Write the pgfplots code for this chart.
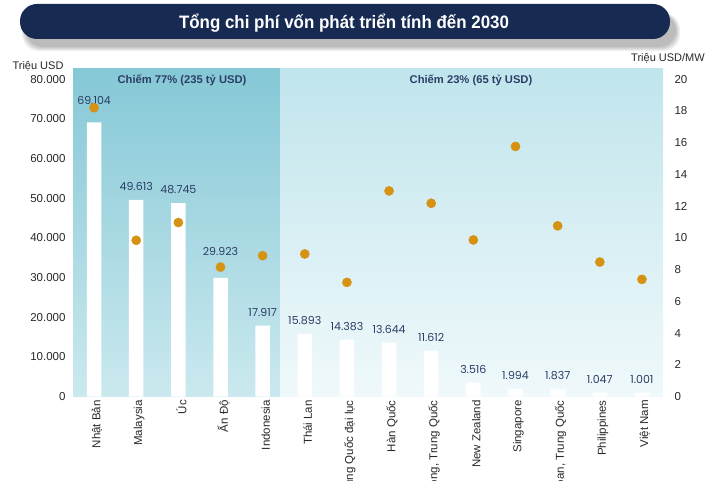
\documentclass[border=0pt]{standalone}
\usepackage{pgfplots}
\pgfplotsset{compat=1.18}
\usepackage{pgfplotstable}
\usepackage{fontspec}
\setmainfont{Liberation Sans}
\newfontfamily\numfont{Poppins}
\definecolor{navy}{RGB}{22,42,82}
\definecolor{lbl}{RGB}{44,62,102}
\definecolor{gold}{RGB}{214,146,18}
\definecolor{ltop}{RGB}{133,200,214}
\definecolor{lbot}{RGB}{203,233,239}
\definecolor{rtop}{RGB}{192,229,236}
\definecolor{rbot}{RGB}{240,249,251}
\definecolor{tick}{RGB}{40,40,40}

\pgfplotstableread{
idx bar dot off
0 69104 18.2 22
1 49613 9.85 13.5
2 48745 10.97 13.5
3 29923 8.16 26
4 17917 8.88 13.5
5 15893 8.99 13.5
6 14383 7.2 13.5
7 13644 12.96 13.5
8 11612 12.18 13.5
9 3516 9.87 13.5
10 1994 15.76 13.5
11 1837 10.76 13.5
12 1047 8.48 13.5
13 1001 7.39 13.5
}\datatable

\begin{document}
\begin{tikzpicture}[x=1pt,y=1pt]
\useasboundingbox (0,0) rectangle (720,480);
% banner shadow
\foreach \s in {0,1,2,3,4}{
  \fill[black,opacity=0.06,rounded corners=17pt] (26-\s,433-\s) rectangle (676+\s,466+\s*0.2);
}
\fill[navy,rounded corners=17pt] (20,441) rectangle (670,476);
\node[white,font=\bfseries\fontsize{18}{20}\selectfont,anchor=base] at (344,451.7) {\scalebox{0.94}[1]{Tổng chi phí vốn phát triển tính đến 2030}};

\begin{axis}[
  at={(73pt,83.3pt)}, anchor=south west,
  scale only axis, width=590pt, height=328.7pt,
  xmin=-0.5, xmax=13.5, ymin=0, ymax=82800,
  axis line style={draw=none},
  major tick length=0pt,
  ytick={0,10000,...,80000},
  scaled y ticks=false,
  yticklabel style={font=\fontsize{11.5}{13}\selectfont, text=tick, xshift=-4pt},
  xtick={0,...,13},
  xticklabels={Nhật Bản, Malaysia, Úc, Ấn Độ, Indonesia, Thái Lan, Trung Quốc đại lục, Hàn Quốc, {Hồng Kông, Trung Quốc}, New Zealand, Singapore, {Đài Loan, Trung Quốc}, Philippines, Việt Nam},
  xticklabel style={rotate=90, anchor=east, font=\fontsize{11.5}{13}\selectfont, text=tick, yshift=-3pt},
  /pgf/number format/1000 sep={.},
  /pgf/number format/assume math mode=true,
]
\shade[top color=ltop, bottom color=lbot] (axis cs:-0.5,0) rectangle (axis cs:4.42,82800);
\shade[top color=rtop, bottom color=rbot] (axis cs:4.42,0) rectangle (axis cs:13.5,82800);
\draw[gray!35] (axis cs:-0.5,0) -- (axis cs:13.5,0);
\addplot[ybar, bar width=14.5pt, fill=white, draw=none,
  nodes near coords,
  visualization depends on={\thisrow{off}\as\off},
  every node near coord/.append style={anchor=center, yshift=\off pt, font=\numfont\fontsize{11}{12}\selectfont, text=lbl}]
  table[x=idx, y=bar] {\datatable};
\end{axis}

\begin{axis}[
  at={(73pt,83.3pt)}, anchor=south west,
  scale only axis, width=590pt, height=328.7pt,
  xmin=-0.5, xmax=13.5, ymin=0, ymax=20.7,
  axis y line*=right, axis line style={draw=none},
  hide x axis,
  major tick length=0pt,
  ytick={0,2,...,20},
  yticklabel style={font=\fontsize{11.5}{13}\selectfont, text=tick, xshift=8pt},
  /pgf/number format/assume math mode=true,
]
\addplot[only marks, mark=*, mark size=4.6pt, color=gold] table[x=idx, y=dot] {\datatable};
\end{axis}

\node[font=\bfseries\fontsize{11.2}{13}\selectfont, text=lbl] at (182,399.5) {Chiếm 77\% (235 tỷ USD)};
\node[font=\bfseries\fontsize{11.2}{13}\selectfont, text=lbl] at (471,399.5) {Chiếm 23\% (65 tỷ USD)};
\node[font=\fontsize{11}{13}\selectfont, text=tick] at (38,414) {Triệu USD};
\node[font=\fontsize{11}{13}\selectfont, text=tick] at (668,422) {Triệu USD/MW};
\end{tikzpicture}
\end{document}
